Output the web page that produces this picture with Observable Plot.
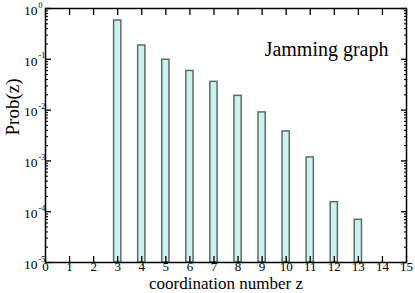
<!DOCTYPE html>
<html>
<head>
<meta charset="utf-8">
<script src="https://cdn.jsdelivr.net/npm/d3@7"></script>
<script src="https://cdn.jsdelivr.net/npm/@observablehq/plot@0.6"></script>
<style>
  html, body { margin: 0; padding: 0; background: white; }
  svg text { font-family: "Liberation Serif", "Times New Roman", serif; }
</style>
</head>
<body>
<div id="chart"></div>
<script>
// Data
const zValues = [3, 4, 5, 6, 7, 8, 9, 10, 11, 12, 13];
const probValues = [0.58, 0.187, 0.098, 0.059, 0.036, 0.0191, 0.009, 0.0038, 0.00117, 0.000154, 0.0000692];
const xTicks = [0, 1, 2, 3, 4, 5, 6, 7, 8, 9, 10, 11, 12, 13, 14, 15];
const yMajor = [1, 0.1, 0.01, 0.001, 0.0001, 0.00001];
const yExponents = ["0", "-1", "-2", "-3", "-4", "-5"];
const title = "Jamming graph";
const xLabel = "coordination number z";
const yLabel = "Prob(z)";

const bars = zValues.map((z, i) => ({z, p: probValues[i]}));
const yMinor = [];
for (let e = -5; e < 0; e++) for (let m = 2; m <= 9; m++) yMinor.push(m * Math.pow(10, e));
const yMajorData = yMajor.map((v, i) => ({v, e: yExponents[i]}));

const halfW = 0.15;
const blank = () => "";
const serif = "Liberation Serif, Times New Roman, serif";

const chart = Plot.plot({
  width: 415,
  height: 293,
  marginLeft: 45,
  marginRight: 9,
  marginTop: 8,
  marginBottom: 31,
  style: {fontFamily: serif, background: "white", color: "black"},
  x: {domain: [0, 15], axis: null},
  y: {type: "log", domain: [1e-5, 1], axis: null},
  marks: [
    Plot.rectY(bars, {
      x1: d => d.z - halfW, x2: d => d.z + halfW,
      y1: 1e-5, y2: "p",
      fill: "#c9f3ed", stroke: "#5d6b6b", strokeWidth: 1.5
    }),
    // ticks (inward)
    Plot.axisX(xTicks, {anchor: "bottom", tickSize: -6, tickFormat: blank, label: null, strokeWidth: 1.3}),
    Plot.axisX(xTicks, {anchor: "top", tickSize: -6, tickFormat: blank, label: null, strokeWidth: 1.3}),
    Plot.axisY(yMajor, {anchor: "left", tickSize: -6, tickFormat: blank, label: null, strokeWidth: 1.3}),
    Plot.axisY(yMinor, {anchor: "left", tickSize: -3, tickFormat: blank, label: null, strokeWidth: 1.1}),
    Plot.axisY(yMajor, {anchor: "right", tickSize: -6, tickFormat: blank, label: null, strokeWidth: 1.3}),
    Plot.axisY(yMinor, {anchor: "right", tickSize: -3, tickFormat: blank, label: null, strokeWidth: 1.1}),
    Plot.frame({stroke: "black", strokeWidth: 1.5}),
    // x tick labels
    Plot.text(xTicks, {x: d => d, frameAnchor: "bottom", dy: 8.5, fontSize: 13, fontFamily: serif, text: d => String(d)}),
    // y tick labels: "10" plus superscript exponent
    Plot.text(yMajorData, {y: "v", frameAnchor: "left", dx: -8, dy: 2, textAnchor: "end", fontSize: 13.5, fontFamily: serif, text: () => "10"}),
    Plot.text(yMajorData, {y: "v", frameAnchor: "left", dx: -7, dy: -3.5, textAnchor: "start", fontSize: 8, fontFamily: serif, text: "e"}),
    // axis labels
    Plot.text([xLabel], {frameAnchor: "bottom", dy: 26, fontSize: 17, fontFamily: serif, text: d => d}),
    Plot.text([yLabel], {frameAnchor: "left", dx: -33, rotate: -90, fontSize: 19, fontFamily: serif, text: d => d}),
    // title annotation
    Plot.text([title], {frameAnchor: "top-right", dx: -18, dy: 33, textAnchor: "end", fontSize: 20, fontFamily: serif, text: d => d})
  ]
});
document.getElementById("chart").appendChild(chart);
</script>
</body>
</html>
